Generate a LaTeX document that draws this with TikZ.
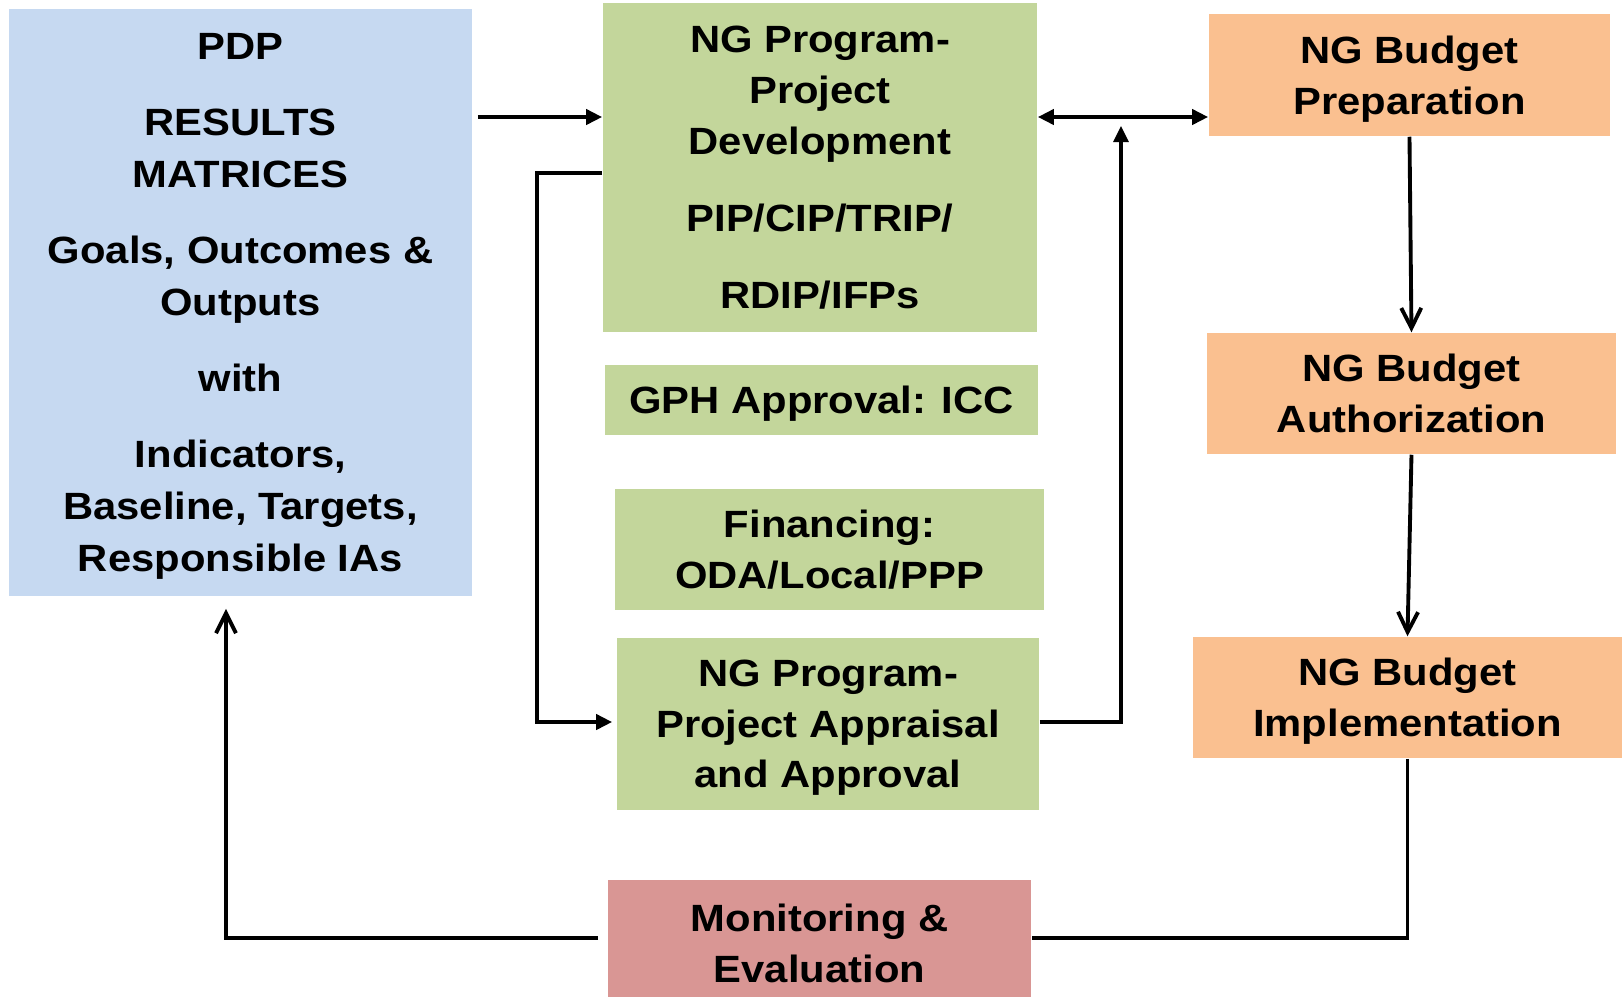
\documentclass[tikz,border=0pt]{standalone}
\usepackage{fontspec}
\setmainfont{Liberation Sans}[FakeStretch=1.1]
\usetikzlibrary{arrows.meta}
\definecolor{pdpblue}{HTML}{C6D9F1}
\definecolor{nggreen}{HTML}{C3D69B}
\definecolor{budgetorange}{HTML}{FAC090}
\definecolor{mered}{HTML}{D99694}

\begin{document}
\begin{tikzpicture}[x=0.01cm, y=-0.01cm,
    box/.style={inner sep=0pt, align=center, text depth=0pt, font=\fontsize{10.8}{14.4}\selectfont\bfseries},
    tri/.style={-{Triangle[length=0.16cm,width=0.15cm]}, line width=1.1pt},
    bitri/.style={{Triangle[length=0.16cm,width=0.15cm]}-{Triangle[length=0.16cm,width=0.15cm]}, line width=1.1pt},
    barb/.style={-{Straight Barb[length=0.2cm,width=0.2cm,line width=1.1pt]}, line width=1.1pt}]
    \useasboundingbox (0,0) rectangle (1623,996);
    % PDP results matrices
    \node[box, fill=pdpblue, minimum width=4.63cm, minimum height=5.87cm,
          font=\fontsize{10.8}{14.8}\selectfont\bfseries] (pdp) at (240.5,302.5)
        {PDP\\[6.8pt] RESULTS\\ MATRICES\\[6.8pt] Goals, Outcomes \&\\ Outputs\\[6.8pt]
         with\\[6.8pt] Indicators,\\ Baseline, Targets,\\ Responsible IAs};
    % Program-project column
    \node[box, fill=nggreen, minimum width=4.34cm, minimum height=3.29cm,
          font=\fontsize{10.8}{14.5}\selectfont\bfseries] (dev) at (820,167.5)
        {NG Program-\\ Project\\ Development\\[7.4pt] PIP/CIP/TRIP/\\[7.4pt] RDIP/IFPs};
    \node[box, fill=nggreen, minimum width=4.33cm, minimum height=0.70cm] (gph) at (821.5,400)
        {GPH Approval: ICC};
    \node[box, fill=nggreen, minimum width=4.29cm, minimum height=1.21cm] (fin) at (829.5,549.5)
        {Financing:\\ ODA/Local/PPP};
    \node[box, fill=nggreen, minimum width=4.22cm, minimum height=1.72cm] (appr) at (828,724)
        {NG Program-\\ Project Appraisal\\ and Approval};
    % Monitoring
    \node[box, fill=mered, minimum width=4.23cm, minimum height=1.26cm] (me) at (819.5,943)
        {Monitoring \&\\ Evaluation};
    % Budget column
    \node[box, fill=budgetorange, minimum width=4.01cm, minimum height=1.22cm] (prep) at (1409.5,75)
        {NG Budget\\ Preparation};
    \node[box, fill=budgetorange, minimum width=4.09cm, minimum height=1.21cm] (auth) at (1411.5,393.5)
        {NG Budget\\ Authorization};
    \node[box, fill=budgetorange, minimum width=4.29cm, minimum height=1.21cm] (impl) at (1407.5,697.5)
        {NG Budget\\ Implementation};
    % Rows and columns of the connectors
    \coordinate (row1) at (0,117);
    \coordinate (row2) at (0,173);
    \coordinate (row3) at (0,722);
    \coordinate (row4) at (0,938);
    \coordinate (col1) at (537,0);
    \coordinate (col2) at (1121,0);
    \coordinate (col3) at (226,0);
    % Top arrows
    \draw[tri, shorten <=0.05cm] (pdp.east |- row1) -- (dev.west |- row1);
    \draw[bitri] (dev.east |- row1) -- (prep.west |- row1);
    % Appraisal loops
    \draw[tri, line width=1.1pt] (dev.west |- row2) -| (col1 |- row3) -- ([xshift=-0.04cm]appr.west |- row3);
    \draw[tri, line width=0.9pt] (appr.east |- row3) -| ([yshift=-0.09cm]col2 |- row1);
    % Budget flow
    \draw[barb] (prep.south) -- (auth.north);
    \draw[barb] (auth.south) -- (impl.north);
    \draw[line width=1.1pt] (impl.south) |- (me.east |- row4);
    % Feedback to PDP
    \draw[barb, shorten <=0.09cm, shorten >=0.12cm] (me.west |- row4) -| (col3 |- pdp.south);
\end{tikzpicture}
\end{document}
